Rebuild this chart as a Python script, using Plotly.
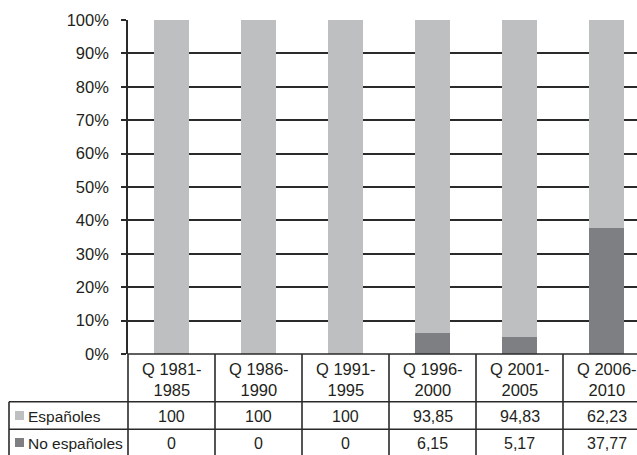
import plotly.graph_objects as go

categories = ["Q 1981-<br>1985", "Q 1986-<br>1990", "Q 1991-<br>1995",
              "Q 1996-<br>2000", "Q 2001-<br>2005", "Q 2006-<br>2010"]
espanoles = [100, 100, 100, 93.85, 94.83, 62.23]
no_espanoles = [0, 0, 0, 6.15, 5.17, 37.77]
espanoles_labels = ["100", "100", "100", "93,85", "94,83", "62,23"]
no_espanoles_labels = ["0", "0", "0", "6,15", "5,17", "37,77"]
series_names = ["Españoles", "No españoles"]
y_ticks = list(range(0, 101, 10))
y_tick_labels = [f"{v}%" for v in y_ticks]

LIGHT = "#BEBFC1"
DARK = "#7E7F83"
INK = "#231F20"
LINE = "#2a2a2a"
FONT = "Liberation Sans, Arial, sans-serif"
FS_TABLE = 15.5
FS_HEAD = 16.5
FS_TICK = 16.5

W, H = 637, 455
L, T, B = 128, 20, 354          # plot area pixel bounds
PH = B - T
PW = W - L


def xp(px):
    return (px - L) / PW


def yp(py):
    return (B - py) / PH


xs = list(range(len(categories)))

fig = go.Figure()
fig.add_trace(go.Bar(x=xs, y=no_espanoles, name=series_names[1],
                     marker=dict(color=DARK, line=dict(width=0)), width=0.4))
fig.add_trace(go.Bar(x=xs, y=espanoles, name=series_names[0],
                     marker=dict(color=LIGHT, line=dict(width=0)), width=0.4))

cat_w = 87.0
x_hi = -0.5 + PW / cat_w

fig.update_layout(
    width=W, height=H,
    margin=dict(l=L, r=0, t=T, b=H - B, pad=0),
    barmode="stack",
    showlegend=False,
    plot_bgcolor="white", paper_bgcolor="white",
    font=dict(family=FONT, size=FS_TABLE, color=INK),
    xaxis=dict(range=[-0.5, x_hi], showticklabels=False, ticks="",
               showgrid=False, zeroline=False, showline=False, fixedrange=True),
    yaxis=dict(range=[0, 100], tickmode="array", tickvals=y_ticks,
               ticktext=y_tick_labels, ticklabelstandoff=9,
               showgrid=True, gridcolor=LINE, gridwidth=1.6,
               ticks="outside", ticklen=5, tickwidth=1.6, tickcolor=LINE,
               showline=True, linecolor=LINE, linewidth=1.6,
               zeroline=False, tickfont=dict(size=FS_TICK, color=INK)),
)

shapes = []
row1, row2, bottom = 401.7, 429.3, 470
line = dict(color=LINE, width=1.6)
# baseline of plot
shapes.append(dict(type="line", xref="paper", yref="paper", x0=0, x1=1,
                   y0=0, y1=0, line=line))
# y-axis continuation through table
shapes.append(dict(type="line", xref="paper", yref="paper", x0=0, x1=0,
                   y0=0, y1=yp(bottom), line=line))
# column separators
for i in range(len(categories) - 1):
    bx = xp(L + (i + 1) * cat_w)
    shapes.append(dict(type="line", xref="paper", yref="paper", x0=bx, x1=bx,
                       y0=0, y1=yp(bottom), line=line))
# row lines
for ry in (row1, row2):
    shapes.append(dict(type="line", xref="paper", yref="paper", x0=xp(9), x1=1,
                       y0=yp(ry), y1=yp(ry), line=line))
# left border of table
shapes.append(dict(type="line", xref="paper", yref="paper", x0=xp(9), x1=xp(9),
                   y0=yp(row1), y1=yp(bottom), line=line))
# legend keys
for color, cy in ((LIGHT, 415.5), (DARK, 442.5)):
    shapes.append(dict(type="rect", xref="paper", yref="paper",
                       x0=xp(15), x1=xp(24), y0=yp(cy - 4.5), y1=yp(cy + 4.5),
                       fillcolor=color, line=dict(width=0)))

annotations = []
for i, c in enumerate(categories):
    annotations.append(dict(x=i, y=yp(379), xref="x", yref="paper", text=c,
                            showarrow=False, xanchor="center", yanchor="middle",
                            font=dict(size=FS_HEAD, color=INK)))
    annotations.append(dict(x=i, y=yp(416), xref="x", yref="paper",
                            text=espanoles_labels[i], showarrow=False,
                            xanchor="center", yanchor="middle",
                            font=dict(size=FS_TABLE + 0.5, color=INK)))
    annotations.append(dict(x=i, y=yp(443), xref="x", yref="paper",
                            text=no_espanoles_labels[i], showarrow=False,
                            xanchor="center", yanchor="middle",
                            font=dict(size=FS_TABLE + 0.5, color=INK)))
for name, cy in ((series_names[0], 416), (series_names[1], 443)):
    annotations.append(dict(x=xp(26), y=yp(cy), xref="paper", yref="paper",
                            text=name, showarrow=False, xanchor="left",
                            yanchor="middle", font=dict(size=FS_TABLE, color=INK)))

fig.update_layout(shapes=shapes, annotations=annotations)
fig.write_html("out.html", config={"displayModeBar": False},
               post_script="document.body.style.margin='0';"
                           "document.body.style.overflow='hidden';")
